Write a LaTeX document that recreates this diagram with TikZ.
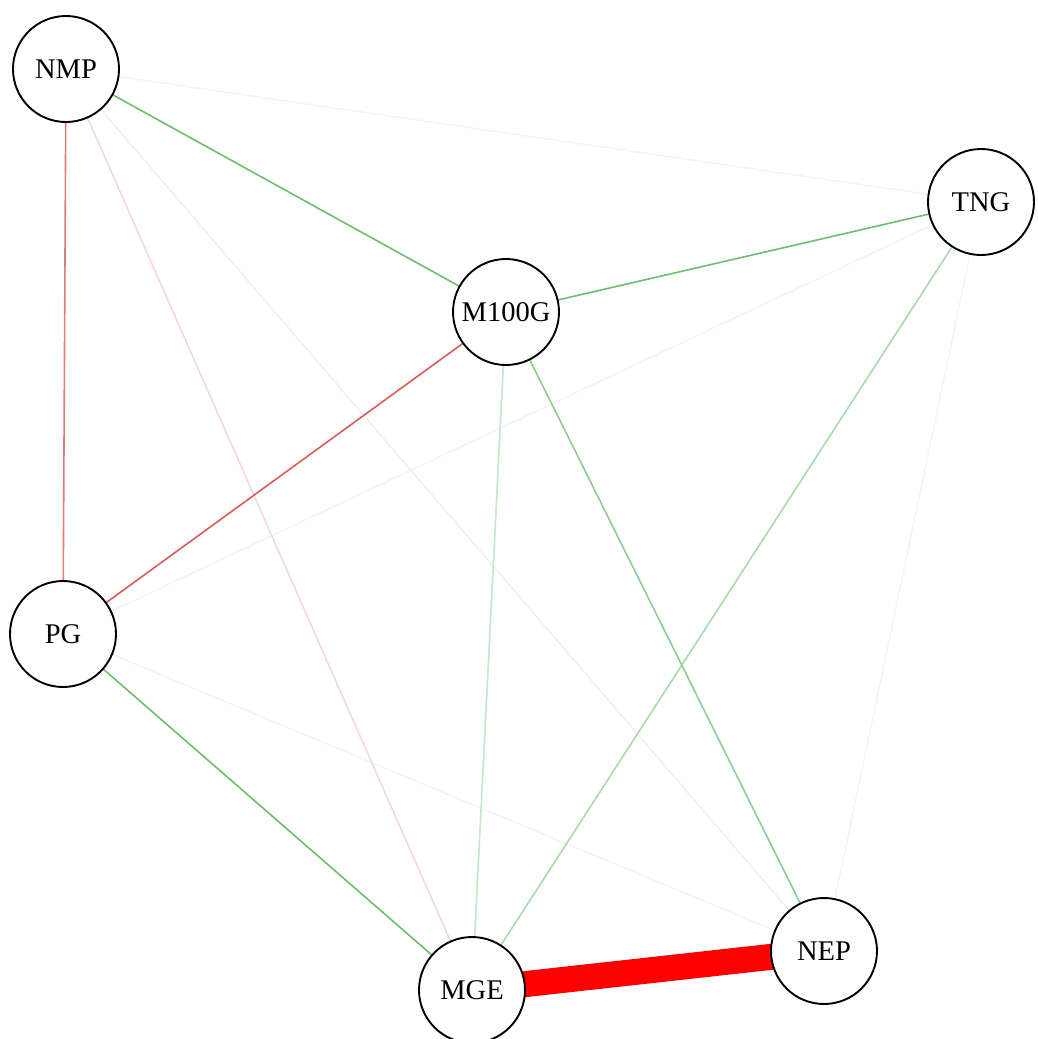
\documentclass[tikz,border=0pt]{standalone}
\usepackage{fontspec}
\setmainfont{Liberation Serif}
\begin{document}
\begin{tikzpicture}[x=1pt,y=-1pt,
  vert/.style={circle,draw=black,line width=1.9pt,fill=white,minimum size=106pt,inner sep=0pt,font=\fontsize{28.5}{31}\selectfont},
  edge/.style={line width=1.6pt}]
\useasboundingbox (0,0) rectangle (1037,1039);
\definecolor{gA}{HTML}{6DBE6D}
\definecolor{gB}{HTML}{8ECE8E}
\definecolor{gC}{HTML}{A9DAA9}
\definecolor{gD}{HTML}{C6E6C6}
\definecolor{rA}{HTML}{E07B7B}
\definecolor{rB}{HTML}{D95C5C}
\definecolor{pA}{HTML}{F3D6DE}
\definecolor{fA}{HTML}{F1EFF1}
\definecolor{fB}{HTML}{F6F3F5}
\definecolor{fC}{HTML}{F3F3F3}
% node positions
\coordinate (pNMP) at (66,69);
\coordinate (pTNG) at (981,202);
\coordinate (pM) at (506,312);
\coordinate (pPG) at (63,634);
\coordinate (pMGE) at (472,990);
\coordinate (pNEP) at (824,951);
% edges
\draw[edge,fC] (pNMP) -- (pTNG);
\draw[edge,fB] (pTNG) -- (pPG);
\draw[edge,fB] (pTNG) -- (pNEP);
\draw[edge,fB] (pPG) -- (pNEP);
\draw[edge,fA] (pNMP) -- (pNEP);
\draw[edge,pA] (pNMP) -- (pMGE);
\draw[edge,gD] (pM) -- (pMGE);
\draw[edge,gC] (pTNG) -- (pMGE);
\draw[edge,gB] (pM) -- (pNEP);
\draw[edge,gA] (pNMP) -- (pM);
\draw[edge,gA] (pTNG) -- (pM);
\draw[edge,gA] (pPG) -- (pMGE);
\draw[edge,rA] (pNMP) -- (pPG);
\draw[edge,rB] (pM) -- (pPG);
\draw[line width=26pt,red] (pMGE) -- (pNEP);
% nodes
\node[vert] (NMP) at (pNMP) {NMP};
\node[vert] (TNG) at (pTNG) {TNG};
\node[vert] (M100G) at (pM) {M100G};
\node[vert] (PG) at (pPG) {PG};
\node[vert] (MGE) at (pMGE) {MGE};
\node[vert] (NEP) at (pNEP) {NEP};
\end{tikzpicture}
\end{document}
